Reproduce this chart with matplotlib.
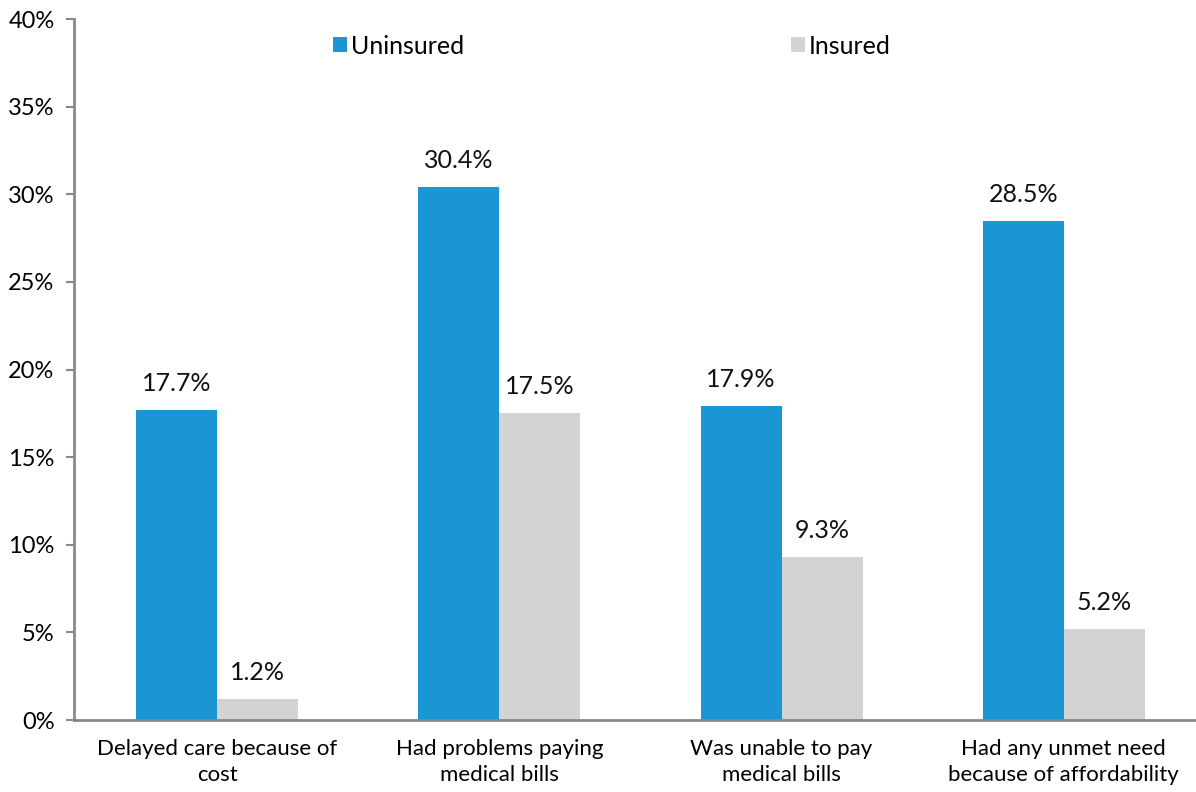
import numpy as np
import matplotlib.pyplot as plt
from matplotlib.ticker import PercentFormatter

categories = ["Delayed care because of\ncost",
              "Had problems paying\nmedical bills",
              "Was unable to pay\nmedical bills",
              "Had any unmet need\nbecause of affordability"]
uninsured = [17.7, 30.4, 17.9, 28.5]
insured = [1.2, 17.5, 9.3, 5.2]
yticks = [0, 5, 10, 15, 20, 25, 30, 35, 40]

plt.rcParams["font.family"] = ["Lato", "DejaVu Sans"]

fig = plt.figure(figsize=(11.96, 7.92), dpi=100)
ax = fig.add_axes([0.0619, 0.0909, 0.938, 0.885])

x = np.arange(len(categories))
w = 0.287
b1 = ax.bar(x - w / 2, uninsured, w, color="#1A96D4", label="Uninsured")
b2 = ax.bar(x + w / 2, insured, w, color="#D3D3D3", label="Insured")

# value labels above each bar
for bars, vals in ((b1, uninsured), (b2, insured)):
    for bar, v in zip(bars, vals):
        ax.text(bar.get_x() + bar.get_width() / 2, v + 0.85, f"{v:.1f}%",
                ha="center", va="bottom", fontsize=18, color="#111111")

ax.set_xlim(-0.507, 3.468)
ax.set_ylim(0, 40)
ax.set_yticks(yticks)
ax.yaxis.set_major_formatter(PercentFormatter(decimals=0))
ax.set_xticks(x)
ax.set_xticklabels(categories, fontsize=16, linespacing=1.35)
ax.tick_params(axis="x", length=0, pad=14)
ax.tick_params(axis="y", length=6, width=1.5, color="#888888", labelsize=17, pad=8)

for s in ("top", "right"):
    ax.spines[s].set_visible(False)
for s in ("left", "bottom"):
    ax.spines[s].set_color("#888888")
    ax.spines[s].set_linewidth(2)

ax.legend(loc="upper left", bbox_to_anchor=(0.211, 1.01), ncol=2, frameon=False,
          fontsize=18, handlelength=0.55, handleheight=0.55, handletextpad=0.15,
          columnspacing=13.1)

fig.savefig("out.png", dpi=100)
